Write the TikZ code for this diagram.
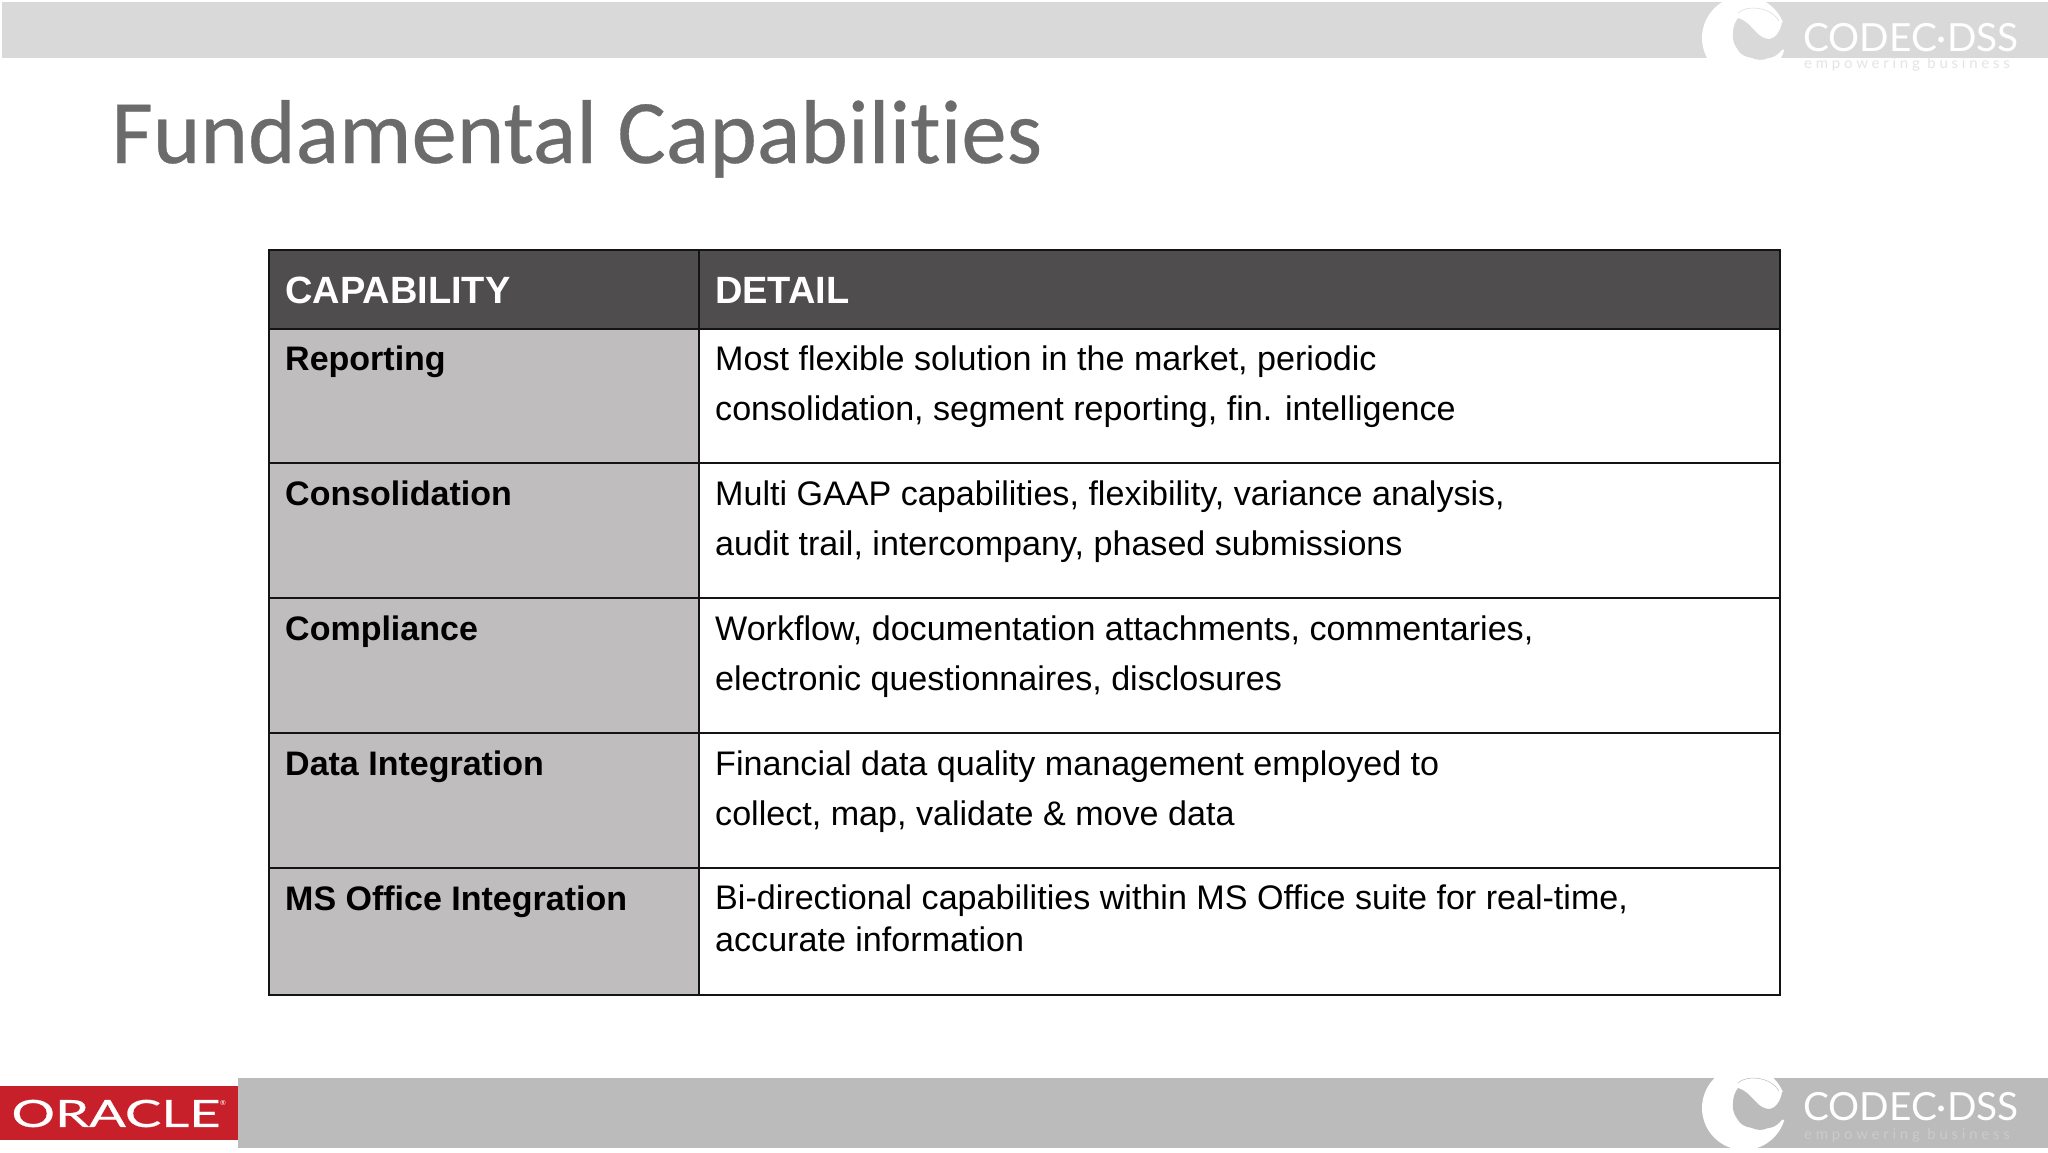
\documentclass[tikz,border=0pt]{standalone}
\usepackage{fontspec}
\setmainfont{Liberation Sans}
\newfontfamily\titlefont[Ligatures=NoCommon,FakeBold=0.35]{Carlito}
\newfontfamily\logofont{Lato}
\newfontfamily\oraclefont[FakeBold=0.5]{Lato}
\newfontfamily\logosubfont[LetterSpace=25]{Lato}
\definecolor{topband}{HTML}{D9D9D9}
\definecolor{botband}{HTML}{BCBBBC}
\definecolor{headfill}{HTML}{4F4D4E}
\definecolor{capfill}{HTML}{BFBDBE}
\definecolor{titlegrey}{HTML}{6B6B6B}
\definecolor{oraclered}{HTML}{C8202A}
\definecolor{tickline}{HTML}{141414}
\definecolor{subtop}{HTML}{E4E4E4}
\definecolor{subbot}{HTML}{CCCBCC}
\tikzset{
  x=1pt,y=-1pt,
  band/.style={inner sep=0,outer sep=0,anchor=north west},
  cell/.style={draw=tickline,line width=2.2pt,inner sep=0,outer sep=0,anchor=north west},
  headtext/.style={font=\fontsize{38}{38}\selectfont\bfseries,text=white,inner sep=0,anchor=base west},
  captext/.style={font=\fontsize{34}{35}\selectfont\bfseries,text=black,inner sep=0,anchor=base west},
  dettext/.style={font=\fontsize{34.1}{49.4}\selectfont,text=black,inner sep=0,anchor=north west,align=left},
  logomain/.style={font=\logofont\fontsize{38.8}{39}\selectfont,text=white,inner sep=0,anchor=base west},
  logosub/.style={font=\logosubfont\fontsize{15}{15}\selectfont,inner sep=0,anchor=base west},
}
\begin{document}
\begin{tikzpicture}
\useasboundingbox (0,0) rectangle (2048,1152);
\fill[white] (0,0) rectangle (2048,1152);
\node[band,fill=topband,minimum width=2046pt,minimum height=56pt] (topbar) at (2,2) {};
\node[band,fill=botband,minimum width=1810pt,minimum height=70pt] (botbar) at (238,1078) {};
\node[band,fill=oraclered,minimum width=238pt,minimum height=54pt] (oracle) at (0,1086) {};
\node[font=\oraclefont\fontsize{37.5}{38}\selectfont,text=white,inner sep=0,xscale=1.45] (oracletext) at (116,1113.5) {ORACLE};
\node[font=\logofont\fontsize{7}{7}\selectfont,text=white,inner sep=0] (oraclereg) at (223,1103) {®};
\node[titlegrey,font=\titlefont\fontsize{90.7}{92}\selectfont,inner sep=0,anchor=base west] (title) at (111,163) {Fundamental Capabilities};

% header
\node[cell,fill=headfill,minimum width=430pt,minimum height=79pt] (h1) at (269,250) {};
\node[cell,fill=headfill,minimum width=1081pt,minimum height=79pt] (h2) at (699,250) {};
% rows
\foreach \n/\y/\h in {1/329/134,2/463/135,3/598/135,4/733/135,5/868/127}{
  \node[cell,fill=capfill,minimum width=430pt,minimum height=\h pt] (c\n) at (269,\y) {};
  \node[cell,fill=white,minimum width=1081pt,minimum height=\h pt] (d\n) at (699,\y) {};
}
\node[headtext] (th1) at (285,303) {CAPABILITY};
\node[headtext] (th2) at (715,303) {DETAIL};

\node[captext] (l1) at (285,370) {Reporting};
\node[captext] (l2) at (285,505) {Consolidation};
\node[captext] (l3) at (285,640) {Compliance};
\node[captext] (l4) at (285,775) {Data Integration};
\node[captext] (l5) at (285,910) {MS Office Integration};

\node[dettext] (t1) at (715,346) {Most flexible solution in the market, periodic\\consolidation, segment reporting, fin. intelligence};
\node[dettext] (t2) at (715,481) {Multi GAAP capabilities, flexibility, variance analysis,\\audit trail, intercompany, phased submissions};
\node[dettext] (t3) at (715,616) {Workflow, documentation attachments, commentaries,\\electronic questionnaires, disclosures};
\node[dettext] (t4) at (715,751) {Financial data quality management employed to\\collect, map, validate \& move data};
\node[dettext,font=\fontsize{34.1}{41.6}\selectfont] (t5) at (715,885) {Bi-directional capabilities within MS Office suite for real-time,\\accurate information};

% logos
\foreach \yy/\bg/\sub/\tag/\by/\sy in {38/topband/subtop/a/51/68,1108/botband/subbot/b/1120/1139}{
  \begin{scope}[shift={(1744,\yy)}]
    \fill[white] (0,0) circle[radius=42];
    \fill[\bg] (-6,-20) .. controls (3,-17) and (7,-11) .. (13,-5)
       .. controls (17,-1) and (21,1) .. (26,1)
       .. controls (32,0) and (37,-8) .. (38,-16)
       -- (46,-16) -- (46,12) -- (41,12)
       .. controls (39,10) and (37,12) .. (36,14)
       .. controls (32,18) and (28,20) .. (24,20)
       .. controls (18,23) and (13,22) .. (8,20)
       .. controls (1,19) and (-4,16) .. (-6,12)
       .. controls (-10,7) and (-12,1) .. (-11,-5)
       .. controls (-11,-11) and (-9,-16) .. (-6,-20) -- cycle;
    \draw[\bg,line width=0.5pt] (-6,-25) .. controls (2,-33) and (26,-32) .. (35,-17);
  \end{scope}
  \node[logomain] (main\tag) at (1803,\by) {CODEC·DSS};
  \node[logosub,text=\sub] (sub\tag) at (1804,\sy) {empowering business};
}
\end{tikzpicture}
\end{document}
